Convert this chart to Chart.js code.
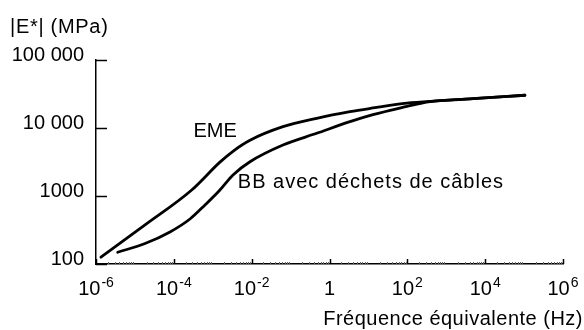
<!DOCTYPE html>
<html>
<head>
<meta charset="utf-8">
<script src="https://cdn.jsdelivr.net/npm/chart.js@4.4.1/dist/chart.umd.min.js"></script>
<style>
  html, body { margin: 0; padding: 0; background: #fff; }
</style>
</head>
<body>
<canvas id="chart" width="584" height="330"></canvas>
<script>
// curve EME (frequency in Hz, |E*| in MPa)
const emeFreq = [1.34e-6, 1.82e-5, 2.88e-4, 1.53e-3, 3.31e-3, 9.06e-3, 0.0638, 0.469, 3.36, 13.1, 98, 690, 4860, 1.05e5];
const emeModulus = [126, 375, 1225, 3150, 4550, 6600, 10450, 13900, 17400, 19700, 23300, 25200, 27000, 30300];

// curve BB avec déchets de câbles
const bbFreq = [3.61e-6, 1.82e-5, 7.96e-5, 2.6e-4, 6.32e-4, 1.53e-3, 3.31e-3, 9.06e-3, 0.0638, 0.469, 3.36, 13.1, 98, 252, 690, 4860, 1.05e5];
const bbModulus = [149, 200, 296, 459, 738, 1225, 2040, 3190, 5620, 8360, 12400, 15700, 20800, 23500, 25200, 27000, 30300];

// axes
const xTickValues = [1e-6, 1e-4, 1e-2, 1, 1e2, 1e4, 1e6];
const xTickBase = ['10', '10', '10', '1', '10', '10', '10'];
const xTickExp = ['-6', '-4', '-2', '', '2', '4', '6'];
const yTickValues = [100, 1000, 10000, 100000];
const yTickLabels = ['100', '1000', '10 000', '100 000'];

const xTitle = 'Fréquence équivalente (Hz)';
const yTitle = '|E*| (MPa)';

// curve labels, placed in data coordinates
const curveLabels = [
  { text: 'EME', x: 3.2e-4, y: 7400, spacing: 0 },
  { text: 'BB avec déchets de câbles', x: 4.4e-3, y: 1310, spacing: 1 }
];

const FONT = '"Liberation Sans", Arial, Helvetica, sans-serif';

const toPoints = (xs, ys) => xs.map((x, i) => ({ x: x, y: ys[i] }));

// draws inner tick marks, x labels with exponents, titles and curve labels
const decorations = {
  id: 'decorations',
  afterDraw(chart) {
    const ctx = chart.ctx;
    const xs = chart.scales.x;
    const ys = chart.scales.y;
    const area = chart.chartArea;
    ctx.save();
    ctx.strokeStyle = '#000';
    ctx.fillStyle = '#000';

    // y major ticks, pointing inward
    ctx.lineWidth = 1.5;
    yTickValues.forEach(v => {
      const py = Math.round(ys.getPixelForValue(v)) + 0.5;
      ctx.beginPath();
      ctx.moveTo(area.left, py);
      ctx.lineTo(area.left + 11, py);
      ctx.stroke();
    });

    // x major ticks
    xTickValues.forEach(v => {
      const px = Math.round(xs.getPixelForValue(v)) + 0.5;
      ctx.beginPath();
      ctx.moveTo(px, area.bottom);
      ctx.lineTo(px, area.bottom - 5);
      ctx.stroke();
    });

    // faint x minor ticks
    ctx.lineWidth = 1;
    ctx.strokeStyle = '#666';
    for (let e = -6; e < 6; e++) {
      for (let k = 2; k <= 9; k++) {
        const px = Math.round(xs.getPixelForValue(k * Math.pow(10, e))) + 0.5;
        ctx.beginPath();
        ctx.moveTo(px, area.bottom);
        ctx.lineTo(px, area.bottom - 2);
        ctx.stroke();
      }
    }

    // x tick labels: base with raised exponent
    ctx.fillStyle = '#000';
    ctx.textBaseline = 'alphabetic';
    ctx.textAlign = 'left';
    xTickValues.forEach((v, i) => {
      const px = xs.getPixelForValue(v);
      ctx.font = '20px ' + FONT;
      const wb = ctx.measureText(xTickBase[i]).width;
      ctx.font = '14px ' + FONT;
      const we = xTickExp[i] ? ctx.measureText(xTickExp[i]).width + 1 : 0;
      const start = px - (wb + we) / 2;
      ctx.font = '20px ' + FONT;
      ctx.fillText(xTickBase[i], start, area.bottom + 31);
      if (xTickExp[i]) {
        ctx.font = '14px ' + FONT;
        ctx.fillText(xTickExp[i], start + wb + 1, area.bottom + 23);
      }
    });

    // axis titles
    ctx.font = '20px ' + FONT;
    ctx.letterSpacing = '0.5px';
    ctx.textAlign = 'right';
    ctx.fillText(xTitle, 583, area.bottom + 61);
    ctx.textAlign = 'left';
    ctx.letterSpacing = '0.7px';
    ctx.fillText(yTitle, 10, 33);

    // curve labels
    curveLabels.forEach(l => {
      ctx.letterSpacing = l.spacing + 'px';
      ctx.fillText(l.text, xs.getPixelForValue(l.x), ys.getPixelForValue(l.y));
    });
    ctx.restore();
  }
};

const curveStyle = {
  borderColor: '#000',
  borderWidth: 2.8,
  pointRadius: 0,
  fill: false,
  cubicInterpolationMode: 'monotone',
  borderCapStyle: 'round'
};

new Chart(document.getElementById('chart').getContext('2d'), {
  type: 'line',
  data: {
    datasets: [
      Object.assign({ label: 'EME', data: toPoints(emeFreq, emeModulus) }, curveStyle),
      Object.assign({ label: 'BB avec déchets de câbles', data: toPoints(bbFreq, bbModulus) }, curveStyle)
    ]
  },
  options: {
    responsive: false,
    animation: false,
    layout: { padding: { top: 60, right: 21, left: 0, bottom: 0 } },
    plugins: {
      legend: { display: false },
      tooltip: { enabled: false }
    },
    scales: {
      x: {
        type: 'logarithmic',
        min: 1e-6,
        max: 1e6,
        afterBuildTicks: s => { s.ticks = xTickValues.map(v => ({ value: v })); },
        afterFit: s => { s.height = 66; },
        ticks: { display: false },
        grid: { display: false, drawTicks: false },
        border: { display: true, color: '#000', width: 1.5 }
      },
      y: {
        type: 'logarithmic',
        min: 100,
        max: 100000,
        afterBuildTicks: s => { s.ticks = yTickValues.map(v => ({ value: v })); },
        afterFit: s => { s.width = 96; },
        ticks: {
          callback: (v, i) => yTickLabels[i],
          color: '#000',
          font: { family: FONT, size: 20 },
          padding: 12,
          labelOffset: -5,
          autoSkip: false
        },
        grid: { display: false, drawTicks: false },
        border: { display: true, color: '#000', width: 1.5 }
      }
    }
  },
  plugins: [decorations]
});
</script>
</body>
</html>
